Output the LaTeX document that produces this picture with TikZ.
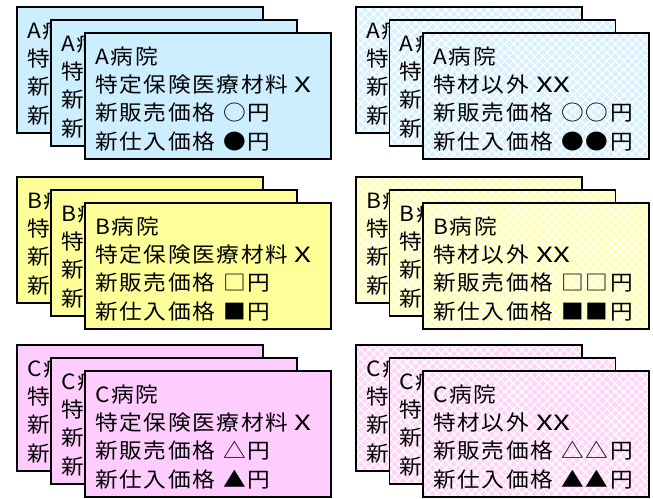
\documentclass[tikz,border=0pt]{standalone}
\usepackage{fontspec}
\usepackage{graphicx}
\setmainfont{Noto Sans CJK JP}[LetterSpace=8, FakeStretch=1.08]
\usetikzlibrary{patterns.meta}
\definecolor{sA}{RGB}{204,238,255}
\definecolor{sB}{RGB}{255,255,153}
\definecolor{sC}{RGB}{255,204,255}
\definecolor{pA}{RGB}{214,240,255}
\definecolor{pB}{RGB}{255,255,178}
\definecolor{pC}{RGB}{255,214,250}
\newcommand\bigX{\scalebox{1.3}[1]{X}}
\tikzset{
  card/.style={draw=black, line width=1.4pt, minimum width=#1, minimum height=126pt,
    inner sep=0pt, outer sep=0pt, anchor=north west},
  solid/.style={fill=#1},
  hatched/.style={preaction={fill=#1},
    preaction={pattern={Lines[angle=45,distance=6pt,line width=1.2pt]}, pattern color=white},
    pattern={Lines[angle=-45,distance=6pt,line width=1.2pt]}, pattern color=white},
  cardtext/.style={anchor=base west, inner sep=0pt, text=black,
    font=\fontsize{21}{25}\selectfont}
}
\newcommand\drawcard[9]{%
  \node[card=#4, #5] (#1) at (#2,#3) {};
  \node[cardtext] (#1t1) at ([shift={(10,31.3)}]#1.north west) {#6};
  \node[cardtext] (#1t2) at ([shift={(10,59.6)}]#1.north west) {#7};
  \node[cardtext] (#1t3) at ([shift={(10,87.9)}]#1.north west) {#8};
  \node[cardtext] (#1t4) at ([shift={(10,116.2)}]#1.north west) {#9};
}
\begin{document}
\begin{tikzpicture}[x=1pt,y=-1pt]
\useasboundingbox (0,0) rectangle (653,498);
% ---------- Left column ----------
\drawcard{LA1}{17}{7}{246pt}{solid=sA}{A病}{特}{新}{新}
\drawcard{LA2}{51}{20}{246pt}{solid=sA}{A病}{特}{新}{新}
\drawcard{LA3}{85}{33}{246pt}{solid=sA}{A病院}{特定保険医療材料\hspace{6pt}\bigX}{新販売価格\hspace{8pt}○円}{新仕入価格\hspace{8pt}●円}
\drawcard{LB1}{17}{177}{246pt}{solid=sB}{B病}{特}{新}{新}
\drawcard{LB2}{51}{190}{246pt}{solid=sB}{B病}{特}{新}{新}
\drawcard{LB3}{85}{203}{246pt}{solid=sB}{B病院}{特定保険医療材料\hspace{6pt}\bigX}{新販売価格\hspace{8pt}□円}{新仕入価格\hspace{8pt}■円}
\drawcard{LC1}{17}{345}{246pt}{solid=sC}{C病}{特}{新}{新}
\drawcard{LC2}{51}{358}{246pt}{solid=sC}{C病}{特}{新}{新}
\drawcard{LC3}{85}{371}{246pt}{solid=sC}{C病院}{特定保険医療材料\hspace{6pt}\bigX}{新販売価格\hspace{8pt}△円}{新仕入価格\hspace{8pt}▲円}
% ---------- Right column ----------
\drawcard{RA1}{356}{7}{226pt}{hatched=pA}{A病}{特}{新}{新}
\drawcard{RA2}{389.5}{20}{226pt}{hatched=pA}{A病}{特}{新}{新}
\drawcard{RA3}{423}{33}{226pt}{hatched=pA}{A病院}{特材以外\hspace{8pt}\bigX\bigX}{新販売価格\hspace{8pt}○○円}{新仕入価格\hspace{8pt}●●円}
\drawcard{RB1}{356}{177}{226pt}{hatched=pB}{B病}{特}{新}{新}
\drawcard{RB2}{389.5}{190}{226pt}{hatched=pB}{B病}{特}{新}{新}
\drawcard{RB3}{423}{203}{226pt}{hatched=pB}{B病院}{特材以外\hspace{8pt}\bigX\bigX}{新販売価格\hspace{8pt}□□円}{新仕入価格\hspace{8pt}■■円}
\drawcard{RC1}{356}{345}{226pt}{hatched=pC}{C病}{特}{新}{新}
\drawcard{RC2}{389.5}{358}{226pt}{hatched=pC}{C病}{特}{新}{新}
\drawcard{RC3}{423}{371}{226pt}{hatched=pC}{C病院}{特材以外\hspace{8pt}\bigX\bigX}{新販売価格\hspace{8pt}△△円}{新仕入価格\hspace{8pt}▲▲円}
\end{tikzpicture}
\end{document}
